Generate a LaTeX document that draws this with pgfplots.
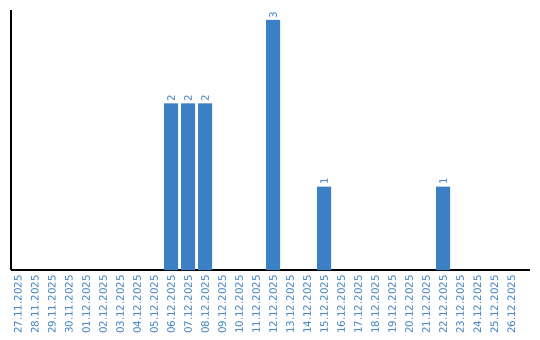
\documentclass[border=0pt]{standalone}
\usepackage{pgfplots}
\pgfplotsset{compat=1.18}
\usepackage{fontspec}
\setmainfont{DejaVu Sans}
\definecolor{barblue}{RGB}{59,127,196}
\begin{document}
\begin{tikzpicture}
\begin{axis}[
  scale only axis,
  width=519bp, height=260bp,
  xmin=-0.41, xmax=30.1,
  ymin=0, ymax=3.12,
  /pgf/number format/assume math mode=true,
  axis x line=bottom, axis y line=left,
  axis line style={-, line width=1.1pt, black},
  ytick=\empty,
  xtick={0,...,29},
  major tick length=0pt,
  xticklabels={27.11.2025,28.11.2025,29.11.2025,30.11.2025,01.12.2025,02.12.2025,03.12.2025,04.12.2025,05.12.2025,06.12.2025,07.12.2025,08.12.2025,09.12.2025,10.12.2025,11.12.2025,12.12.2025,13.12.2025,14.12.2025,15.12.2025,16.12.2025,17.12.2025,18.12.2025,19.12.2025,20.12.2025,21.12.2025,22.12.2025,23.12.2025,24.12.2025,25.12.2025,26.12.2025},
  x tick label style={rotate=90, anchor=east, font=\fontsize{10.3}{11}\selectfont, text=barblue, inner sep=0pt},
  xticklabel shift=5bp,
  nodes near coords,
  every node near coord/.append style={rotate=90, anchor=west, font=\fontsize{10.3}{11}\selectfont, text=barblue, inner sep=1.5bp},
  clip=false,
]
\addplot[ybar, bar width=14bp, fill=barblue, draw=none, bar shift=0pt] coordinates {
  (9,2) (10,2) (11,2) (15,3) (18,1) (25,1)
};
\end{axis}
\path[use as bounding box] ([xshift=-11bp,yshift=-70bp]current axis.south west) rectangle ([xshift=10bp,yshift=10bp]current axis.north east);
\end{tikzpicture}
\end{document}
